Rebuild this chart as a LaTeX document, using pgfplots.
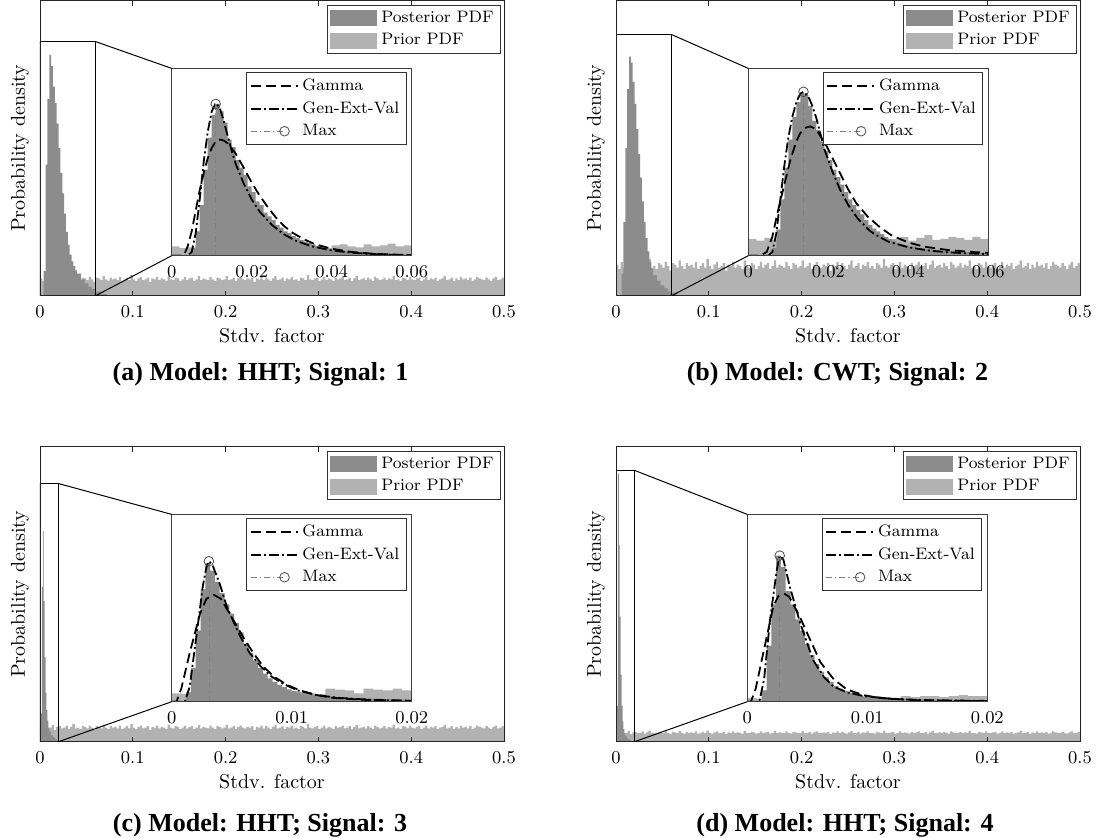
\documentclass[border=0pt]{standalone}
\usepackage{fontspec}
\newfontfamily\capfont{Liberation Serif}
\usepackage{pgfplots}
\usepackage{pgfplotstable}
\pgfplotsset{compat=1.18}

\definecolor{postc}{gray}{0.55}
\definecolor{priorc}{gray}{0.70}

% prior histogram, whole range (shared by the four panels)
\pgfplotstableread{
x p
0.0000 2.1
0.0025 1.8
0.0050 2.3
0.0075 1.9
0.0100 2.0
0.0125 2.4
0.0150 1.7
0.0175 2.1
0.0200 2.2
0.0225 1.9
0.0250 2.0
0.0275 2.3
0.0300 1.8
0.0325 2.1
0.0350 2.5
0.0375 1.9
0.0400 2.0
0.0425 1.8
0.0450 2.2
0.0475 2.1
0.0500 1.9
0.0525 2.3
0.0550 2.0
0.0575 1.7
0.0600 2.2
0.0625 2.1
0.0650 1.9
0.0675 2.4
0.0700 2.0
0.0725 1.8
0.0750 2.2
0.0775 2.0
0.0800 2.1
0.0825 1.9
0.0850 2.3
0.0875 1.8
0.0900 2.0
0.0925 2.2
0.0950 1.9
0.0975 2.5
0.1000 2.0
0.1025 1.8
0.1050 2.1
0.1075 2.3
0.1100 1.9
0.1125 2.0
0.1150 2.2
0.1175 1.7
0.1200 2.1
0.1225 2.0
0.1250 2.3
0.1275 1.9
0.1300 2.1
0.1325 2.0
0.1350 1.8
0.1375 2.4
0.1400 2.0
0.1425 1.9
0.1450 2.2
0.1475 2.1
0.1500 1.8
0.1525 2.0
0.1550 2.3
0.1575 1.9
0.1600 2.1
0.1625 2.2
0.1650 1.8
0.1675 2.0
0.1700 2.4
0.1725 1.9
0.1750 2.1
0.1775 2.0
0.1800 1.9
0.1825 2.3
0.1850 2.0
0.1875 1.8
0.1900 2.2
0.1925 2.1
0.1950 1.9
0.1975 2.0
0.2000 2.4
0.2025 1.9
0.2050 2.0
0.2075 2.2
0.2100 1.8
0.2125 2.1
0.2150 2.3
0.2175 2.0
0.2200 1.9
0.2225 2.1
0.2250 2.0
0.2275 2.2
0.2300 1.7
0.2325 2.1
0.2350 2.0
0.2375 2.3
0.2400 1.9
0.2425 2.2
0.2450 2.0
0.2475 1.8
0.2500 2.1
0.2525 2.4
0.2550 1.9
0.2575 2.0
0.2600 2.2
0.2625 1.8
0.2650 2.1
0.2675 2.0
0.2700 2.3
0.2725 1.9
0.2750 2.0
0.2775 1.8
0.2800 2.2
0.2825 2.1
0.2850 1.9
0.2875 2.5
0.2900 2.0
0.2925 1.9
0.2950 2.1
0.2975 2.2
0.3000 1.8
0.3025 2.0
0.3050 2.3
0.3075 1.9
0.3100 2.1
0.3125 2.0
0.3150 1.8
0.3175 2.2
0.3200 2.0
0.3225 2.1
0.3250 2.3
0.3275 1.9
0.3300 2.0
0.3325 2.2
0.3350 1.8
0.3375 2.1
0.3400 2.4
0.3425 1.9
0.3450 2.0
0.3475 2.1
0.3500 1.9
0.3525 2.2
0.3550 2.0
0.3575 1.8
0.3600 2.3
0.3625 2.1
0.3650 1.9
0.3675 2.0
0.3700 2.2
0.3725 1.9
0.3750 2.1
0.3775 2.0
0.3800 2.4
0.3825 1.9
0.3850 2.0
0.3875 1.8
0.3900 2.2
0.3925 2.1
0.3950 1.9
0.3975 2.3
0.4000 2.0
0.4025 1.9
0.4050 2.1
0.4075 2.2
0.4100 1.8
0.4125 2.0
0.4150 2.3
0.4175 1.9
0.4200 2.1
0.4225 2.0
0.4250 2.2
0.4275 1.8
0.4300 2.0
0.4325 2.1
0.4350 2.4
0.4375 1.9
0.4400 2.0
0.4425 2.2
0.4450 1.8
0.4475 2.1
0.4500 1.9
0.4525 2.3
0.4550 2.0
0.4575 2.1
0.4600 1.9
0.4625 2.2
0.4650 1.8
0.4675 2.0
0.4700 2.3
0.4725 2.1
0.4750 2.0
0.4775 1.9
0.4800 2.2
0.4825 2.0
0.4850 1.8
0.4875 2.1
0.4900 2.3
0.4925 1.9
0.4950 2.0
0.4975 2.2
0.5000 2.2
}\priorall

% prior inside the zoom windows, 0-0.06
\pgfplotstableread{
x a b
0.000 0.050 0.090
0.002 0.040 0.080
0.004 0.045 0.095
0.006 0.055 0.085
0.008 0.040 0.075
0.010 0.050 0.090
0.012 0.045 0.100
0.014 0.035 0.085
0.016 0.050 0.080
0.018 0.045 0.095
0.020 0.040 0.090
0.022 0.050 0.075
0.024 0.055 0.085
0.026 0.045 0.100
0.028 0.040 0.090
0.030 0.050 0.080
0.032 0.060 0.095
0.034 0.045 0.085
0.036 0.050 0.090
0.038 0.040 0.100
0.040 0.055 0.080
0.042 0.060 0.095
0.044 0.050 0.110
0.046 0.045 0.085
0.048 0.060 0.090
0.050 0.050 0.100
0.052 0.055 0.095
0.054 0.065 0.085
0.056 0.050 0.100
0.058 0.055 0.090
0.060 0.055 0.090
}\priorab

% prior inside the zoom windows, 0-0.02
\pgfplotstableread{
x c d
0.0000 0.045 0.020
0.0008 0.040 0.015
0.0016 0.050 0.020
0.0024 0.045 0.025
0.0032 0.040 0.020
0.0040 0.050 0.015
0.0048 0.045 0.020
0.0056 0.040 0.020
0.0064 0.050 0.025
0.0072 0.045 0.020
0.0080 0.050 0.015
0.0088 0.040 0.020
0.0096 0.045 0.025
0.0104 0.050 0.030
0.0112 0.045 0.025
0.0120 0.040 0.020
0.0128 0.070 0.030
0.0136 0.065 0.025
0.0144 0.060 0.030
0.0152 0.045 0.030
0.0160 0.070 0.025
0.0168 0.065 0.030
0.0176 0.060 0.035
0.0184 0.070 0.030
0.0192 0.060 0.030
0.0200 0.060 0.030
}\priorcd

\pgfplotsset{
  mainax/.style={
    scale only axis, width=232pt, height=147.5pt, anchor=south west,
    xmin=0, xmax=0.5, ymin=0,
    xtick={0,0.1,0.2,0.3,0.4,0.5}, ytick=\empty,
    major tick length=2.5pt, axis on top,
    axis line style={black!85}, every tick/.style={black!85},
    tick label style={font=\fontsize{9.5}{11}\selectfont},
    xticklabel style={yshift=-1.5pt},
    xlabel={Stdv. factor}, ylabel={Probability density},
    every axis x label/.style={at={(axis description cs:0.5,0)}, anchor=base, yshift=-23.5pt},
    every axis y label/.style={at={(axis description cs:-0.043,0.5)}, anchor=center, rotate=90},
    legend cell align=left,
    legend style={at={(0.9935,0.9865)}, anchor=north east, draw=black!80,
      font=\fontsize{8.3}{10}\selectfont, inner xsep=1.5pt, inner ysep=1pt, row sep=0pt},
  },
  inax/.style={
    scale only axis, width=120pt, height=93.65pt, anchor=south west,
    ymin=0, ymax=1, ytick=\empty, axis on top,
    axis background/.style={fill=white},
    major tick length=0pt, scaled x ticks=false,
    axis line style={black!75},
    tick label style={font=\fontsize{9.5}{11}\selectfont},
    xticklabel style={/pgf/number format/fixed, /pgf/number format/precision=2, yshift=-1.5pt},
    legend cell align=left,
    legend style={at={(0.979,0.979)}, anchor=north east, draw=black!80,
      font=\fontsize{8.3}{10}\selectfont, inner xsep=1.5pt, inner ysep=1pt, row sep=0pt},
  },
  hist/.style={const plot, draw=none, fill=#1, forget plot},
  gam/.style={black, line width=0.9pt, dash pattern=on 5pt off 2.5pt, forget plot},
  gev/.style={black, line width=0.9pt, dash pattern=on 5pt off 1.5pt on 1pt off 1.5pt, forget plot},
  maxl/.style={gray, line width=0.4pt, dash pattern=on 3pt off 1.5pt on 0.6pt off 1.5pt,
    mark=o, mark indices={2}, mark size=2.4pt, mark options={solid, black!70}, forget plot},
}

\newcommand{\mainlegend}{%
  \addlegendimage{legend image code/.code={\path[draw=none] (0pt,-5pt) rectangle (23.5pt,5pt); \fill[postc, draw=none] (0pt,-4pt) rectangle (23.5pt,4pt);}}
  \addlegendentry{Posterior PDF}
  \addlegendimage{legend image code/.code={\path[draw=none] (0pt,-5pt) rectangle (23.5pt,5pt); \fill[priorc, draw=none] (0pt,-4pt) rectangle (23.5pt,4pt);}}
  \addlegendentry{Prior PDF}}
\newcommand{\fitlegend}{%
  \addlegendimage{legend image code/.code={\path[draw=none] (0pt,-5pt) rectangle (23.5pt,5pt); \draw[black, line width=0.9pt, dash pattern=on 5pt off 2.5pt] (0pt,0pt) -- (23.5pt,0pt);}}
  \addlegendentry{Gamma}
  \addlegendimage{legend image code/.code={\path[draw=none] (0pt,-5pt) rectangle (23.5pt,5pt); \draw[black, line width=0.9pt, dash pattern=on 5pt off 1.5pt on 1pt off 1.5pt] (0pt,0pt) -- (23.5pt,0pt);}}
  \addlegendentry{Gen-Ext-Val}
  \addlegendimage{legend image code/.code={\path[draw=none] (0pt,-5pt) rectangle (23.5pt,5pt); \draw[gray, line width=0.4pt, dash pattern=on 3pt off 1.5pt on 0.6pt off 1.5pt] (0pt,0pt) -- (17pt,0pt); \draw[black!70, solid] (17pt,0pt) circle (2.4pt);}}
  \addlegendentry{Max}}

\begin{document}
\begin{tikzpicture}
\path[use as bounding box] (0pt,0pt) rectangle (550.5pt,419pt);

% ---------------- (a) ----------------
\begin{axis}[mainax, at={(20pt,271.15pt)}, ymax=36]
\addplot[hist=priorc] table[x=x, y=p] {\priorall} \closedcycle;
\addplot[hist=postc] coordinates {(0.000,0) (0.002,0) (0.004,3) (0.006,16) (0.008,24) (0.010,29.4) (0.012,28) (0.014,25.5) (0.016,23.5) (0.018,21) (0.020,18) (0.022,15) (0.024,12.5) (0.026,10) (0.028,7.8) (0.030,6.2) (0.032,5) (0.034,4.2) (0.036,3.6) (0.038,3.1) (0.040,2.7) (0.044,2.0) (0.048,1.5) (0.052,1.1) (0.056,0.8) (0.060,0.5) (0.066,0.2) (0.072,0)} \closedcycle;
\mainlegend
\draw[black, line width=0.5pt] (axis cs:0,0) rectangle (axis cs:0.06,31);
\coordinate (a1) at (axis cs:0.06,31);
\coordinate (a0) at (axis cs:0.06,0);
\end{axis}
\begin{axis}[inax, at={(85.85pt,291.15pt)}, xmin=0, xmax=0.06, xtick={0,0.02,0.04,0.06}]
\addplot[hist=priorc] table[x=x, y=a] {\priorab} \closedcycle;
\addplot[hist=postc] coordinates {(0.004,0) (0.005,0.04) (0.006,0.13) (0.007,0.27) (0.008,0.46) (0.009,0.63) (0.010,0.75) (0.011,0.81) (0.012,0.77) (0.013,0.71) (0.014,0.62) (0.015,0.58) (0.016,0.51) (0.017,0.47) (0.018,0.43) (0.019,0.37) (0.020,0.34) (0.021,0.29) (0.022,0.27) (0.023,0.23) (0.024,0.21) (0.025,0.19) (0.026,0.165) (0.027,0.15) (0.028,0.13) (0.029,0.12) (0.030,0.105) (0.031,0.095) (0.032,0.085) (0.033,0.075) (0.034,0.068) (0.035,0.06) (0.036,0.053) (0.037,0.047) (0.038,0.042) (0.039,0.037) (0.040,0.033) (0.042,0.027) (0.044,0.022) (0.046,0.018) (0.048,0.015) (0.050,0.012) (0.052,0.010) (0.054,0.008) (0.056,0.007) (0.058,0.006) (0.060,0.006)} \closedcycle;
\addplot[gam] coordinates {(0,0) (0.003,0) (0.004,0.05) (0.005,0.13) (0.006,0.24) (0.007,0.35) (0.008,0.44) (0.009,0.52) (0.010,0.575) (0.011,0.61) (0.012,0.62) (0.013,0.615) (0.014,0.60) (0.016,0.545) (0.018,0.47) (0.020,0.39) (0.022,0.32) (0.024,0.26) (0.026,0.205) (0.028,0.16) (0.030,0.125) (0.033,0.088) (0.036,0.06) (0.040,0.037) (0.045,0.02) (0.050,0.011) (0.055,0.006) (0.060,0.003)};
\addplot[gev] coordinates {(0,0) (0.004,0) (0.005,0.02) (0.006,0.12) (0.007,0.3) (0.008,0.5) (0.009,0.66) (0.010,0.77) (0.011,0.815) (0.012,0.79) (0.013,0.72) (0.014,0.64) (0.015,0.56) (0.016,0.49) (0.018,0.385) (0.020,0.3) (0.022,0.235) (0.025,0.165) (0.028,0.115) (0.031,0.08) (0.035,0.05) (0.040,0.028) (0.045,0.016) (0.050,0.009) (0.055,0.005) (0.060,0.003)};
\addplot[maxl] coordinates {(0.011,0) (0.011,0.81)};
\fitlegend
\coordinate (ia1) at (rel axis cs:0,1);
\coordinate (ia0) at (rel axis cs:0,0);
\end{axis}
\draw[black, line width=0.5pt] (a1) -- (ia1) (a0) -- (ia0);
\node[font=\capfont\bfseries\fontsize{13}{15}\selectfont, anchor=base] at (130.25pt,228.65pt) {(a) Model: HHT; Signal: 1};

% ---------------- (b) ----------------
\begin{axis}[mainax, at={(308pt,271.15pt)}, ymax=20]
\addplot[hist=priorc] table[x=x, y=p] {\priorall} \closedcycle;
\addplot[hist=postc] coordinates {(0.000,0) (0.004,0) (0.006,1.5) (0.008,5) (0.010,10) (0.012,14) (0.014,16.2) (0.016,15.8) (0.018,14.5) (0.020,13) (0.022,11.3) (0.024,9.6) (0.026,8) (0.028,6.4) (0.030,5) (0.032,3.9) (0.034,3) (0.036,2.3) (0.038,1.8) (0.040,1.4) (0.044,1.0) (0.048,0.7) (0.052,0.5) (0.056,0.3) (0.060,0.2) (0.066,0)} \closedcycle;
\mainlegend
\draw[black, line width=0.5pt] (axis cs:0,0) rectangle (axis cs:0.06,17.7);
\coordinate (b1) at (axis cs:0.06,17.7);
\coordinate (b0) at (axis cs:0.06,0);
\end{axis}
\begin{axis}[inax, at={(374.15pt,291.15pt)}, xmin=0, xmax=0.06, xtick={0,0.02,0.04,0.06}]
\addplot[hist=priorc] table[x=x, y=b] {\priorab} \closedcycle;
\addplot[hist=postc] coordinates {(0.005,0) (0.006,0.04) (0.007,0.14) (0.008,0.30) (0.009,0.47) (0.010,0.62) (0.011,0.74) (0.012,0.82) (0.013,0.87) (0.014,0.86) (0.015,0.80) (0.016,0.72) (0.017,0.67) (0.018,0.61) (0.019,0.56) (0.020,0.51) (0.021,0.46) (0.022,0.42) (0.023,0.38) (0.024,0.34) (0.025,0.30) (0.026,0.27) (0.027,0.245) (0.028,0.22) (0.029,0.19) (0.030,0.165) (0.031,0.145) (0.032,0.13) (0.033,0.115) (0.034,0.10) (0.035,0.09) (0.036,0.08) (0.037,0.07) (0.038,0.062) (0.039,0.055) (0.040,0.05) (0.042,0.042) (0.044,0.036) (0.046,0.031) (0.048,0.027) (0.050,0.024) (0.052,0.021) (0.054,0.019) (0.056,0.017) (0.058,0.015) (0.060,0.015)} \closedcycle;
\addplot[gam] coordinates {(0,0) (0.003,0) (0.0046,0.02) (0.006,0.1) (0.0071,0.21) (0.009,0.38) (0.0105,0.51) (0.012,0.61) (0.013,0.655) (0.0145,0.685) (0.0155,0.69) (0.017,0.675) (0.0197,0.58) (0.022,0.48) (0.0248,0.36) (0.027,0.28) (0.0298,0.21) (0.033,0.15) (0.0357,0.11) (0.040,0.07) (0.044,0.048) (0.050,0.03) (0.0566,0.019) (0.060,0.015)};
\addplot[gev] coordinates {(0,0) (0.005,0) (0.006,0.02) (0.007,0.12) (0.008,0.3) (0.009,0.48) (0.010,0.63) (0.011,0.74) (0.012,0.82) (0.013,0.865) (0.0138,0.875) (0.015,0.85) (0.016,0.80) (0.017,0.735) (0.019,0.57) (0.021,0.45) (0.023,0.35) (0.025,0.27) (0.0273,0.2) (0.030,0.14) (0.0315,0.115) (0.035,0.075) (0.040,0.045) (0.045,0.028) (0.050,0.018) (0.055,0.012) (0.060,0.009)};
\addplot[maxl] coordinates {(0.0138,0) (0.0138,0.875)};
\fitlegend
\coordinate (ib1) at (rel axis cs:0,1);
\coordinate (ib0) at (rel axis cs:0,0);
\end{axis}
\draw[black, line width=0.5pt] (b1) -- (ib1) (b0) -- (ib0);
\node[font=\capfont\bfseries\fontsize{13}{15}\selectfont, anchor=base] at (418.75pt,228.65pt) {(b) Model: CWT; Signal: 2};

% ---------------- (c) ----------------
\begin{axis}[mainax, at={(20pt,48.15pt)}, ymax=42]
\addplot[hist=priorc] table[x=x, y=p] {\priorall} \closedcycle;
\addplot[hist=postc] coordinates {(0.000,0) (0.001,4) (0.002,22) (0.003,30) (0.004,20) (0.005,12) (0.006,7) (0.007,4.5) (0.008,3) (0.009,2) (0.010,1.4) (0.012,0.9) (0.014,0.6) (0.016,0.4) (0.018,0.2) (0.020,0.1) (0.022,0)} \closedcycle;
\mainlegend
\draw[black, line width=0.5pt] (axis cs:0,0) rectangle (axis cs:0.02,36.75);
\coordinate (c1) at (axis cs:0.02,36.75);
\coordinate (c0) at (axis cs:0.02,0);
\end{axis}
\begin{axis}[inax, at={(85.85pt,68.15pt)}, xmin=0, xmax=0.02, xtick={0,0.01,0.02}]
\addplot[hist=priorc] table[x=x, y=c] {\priorcd} \closedcycle;
\addplot[hist=postc] coordinates {(0.0008,0) (0.0012,0.05) (0.0016,0.18) (0.0020,0.38) (0.0024,0.60) (0.0028,0.74) (0.0032,0.70) (0.0036,0.64) (0.0040,0.58) (0.0044,0.52) (0.0048,0.47) (0.0052,0.42) (0.0056,0.37) (0.0060,0.31) (0.0064,0.26) (0.0068,0.22) (0.0072,0.18) (0.0076,0.15) (0.0080,0.125) (0.0084,0.105) (0.0088,0.09) (0.0092,0.078) (0.0096,0.066) (0.0100,0.057) (0.0104,0.05) (0.0108,0.044) (0.0112,0.039) (0.0120,0.032) (0.0128,0.027) (0.0136,0.023) (0.0144,0.02) (0.0152,0.018) (0.0160,0.016) (0.0176,0.013) (0.0192,0.011) (0.0200,0.011)} \closedcycle;
\addplot[gam] coordinates {(0,0) (0.0004,0) (0.0008,0.07) (0.0015,0.26) (0.00236,0.47) (0.0029,0.55) (0.0035,0.57) (0.0041,0.55) (0.0051,0.44) (0.0060,0.34) (0.0068,0.26) (0.0076,0.19) (0.0085,0.135) (0.0096,0.09) (0.0107,0.06) (0.0121,0.035) (0.0135,0.02) (0.016,0.01) (0.020,0.004)};
\addplot[gev] coordinates {(0,0) (0.0011,0) (0.0015,0.08) (0.0021,0.37) (0.0026,0.62) (0.0029,0.72) (0.0031,0.75) (0.0034,0.73) (0.0040,0.63) (0.00458,0.51) (0.0052,0.42) (0.0057,0.35) (0.0065,0.26) (0.0074,0.19) (0.0083,0.135) (0.0093,0.095) (0.0105,0.06) (0.0121,0.035) (0.014,0.02) (0.017,0.009) (0.020,0.005)};
\addplot[maxl] coordinates {(0.0031,0) (0.0031,0.75)};
\fitlegend
\coordinate (ic1) at (rel axis cs:0,1);
\coordinate (ic0) at (rel axis cs:0,0);
\end{axis}
\draw[black, line width=0.5pt] (c1) -- (ic1) (c0) -- (ic0);
\node[font=\capfont\bfseries\fontsize{13}{15}\selectfont, anchor=base] at (130pt,3pt) {(c) Model: HHT; Signal: 3};

% ---------------- (d) ----------------
\begin{axis}[mainax, at={(308pt,48.15pt)}, ymax=66]
\addplot[hist=priorc] table[x=x, y=p] {\priorall} \closedcycle;
\addplot[hist=postc] coordinates {(0.000,0) (0.001,8) (0.002,60) (0.003,44) (0.004,28) (0.005,15) (0.006,8) (0.007,4.5) (0.008,2.8) (0.009,1.8) (0.010,1.2) (0.012,0.7) (0.014,0.4) (0.016,0.2) (0.018,0.1) (0.020,0)} \closedcycle;
\mainlegend
\draw[black, line width=0.5pt] (axis cs:0,0) rectangle (axis cs:0.02,60.7);
\coordinate (d1) at (axis cs:0.02,60.7);
\coordinate (d0) at (axis cs:0.02,0);
\end{axis}
\begin{axis}[inax, at={(373.65pt,68.15pt)}, xmin=0, xmax=0.02, xtick={0,0.01,0.02}]
\addplot[hist=priorc] table[x=x, y=d] {\priorcd} \closedcycle;
\addplot[hist=postc] coordinates {(0.0008,0) (0.0012,0.06) (0.0016,0.30) (0.0020,0.52) (0.0024,0.78) (0.0028,0.72) (0.0032,0.59) (0.0036,0.52) (0.0040,0.44) (0.0044,0.38) (0.0048,0.31) (0.0052,0.25) (0.0056,0.20) (0.0060,0.16) (0.0064,0.13) (0.0068,0.105) (0.0072,0.085) (0.0076,0.07) (0.0080,0.058) (0.0084,0.048) (0.0088,0.04) (0.0092,0.034) (0.0096,0.029) (0.0100,0.025) (0.0108,0.02) (0.0116,0.017) (0.0124,0.015) (0.0136,0.013) (0.0152,0.011) (0.0168,0.01) (0.0184,0.009) (0.0200,0.009)} \closedcycle;
\addplot[gam] coordinates {(0,0) (0.0003,0) (0.0007,0.07) (0.00133,0.26) (0.00217,0.51) (0.0026,0.565) (0.003,0.58) (0.0035,0.56) (0.0044,0.45) (0.0051,0.35) (0.0061,0.21) (0.0072,0.12) (0.0083,0.065) (0.0097,0.035) (0.011,0.02) (0.014,0.008) (0.020,0.003)};
\addplot[gev] coordinates {(0,0) (0.0010,0) (0.0014,0.12) (0.0019,0.44) (0.00245,0.7) (0.0027,0.78) (0.0030,0.76) (0.00356,0.61) (0.0044,0.42) (0.0055,0.22) (0.0064,0.13) (0.0072,0.08) (0.0083,0.05) (0.0097,0.03) (0.012,0.015) (0.015,0.008) (0.020,0.004)};
\addplot[maxl] coordinates {(0.0027,0) (0.0027,0.78)};
\fitlegend
\coordinate (id1) at (rel axis cs:0,1);
\coordinate (id0) at (rel axis cs:0,0);
\end{axis}
\draw[black, line width=0.5pt] (d1) -- (id1) (d0) -- (id0);
\node[font=\capfont\bfseries\fontsize{13}{15}\selectfont, anchor=base] at (422.5pt,3pt) {(d) Model: HHT; Signal: 4};
\end{tikzpicture}
\end{document}
